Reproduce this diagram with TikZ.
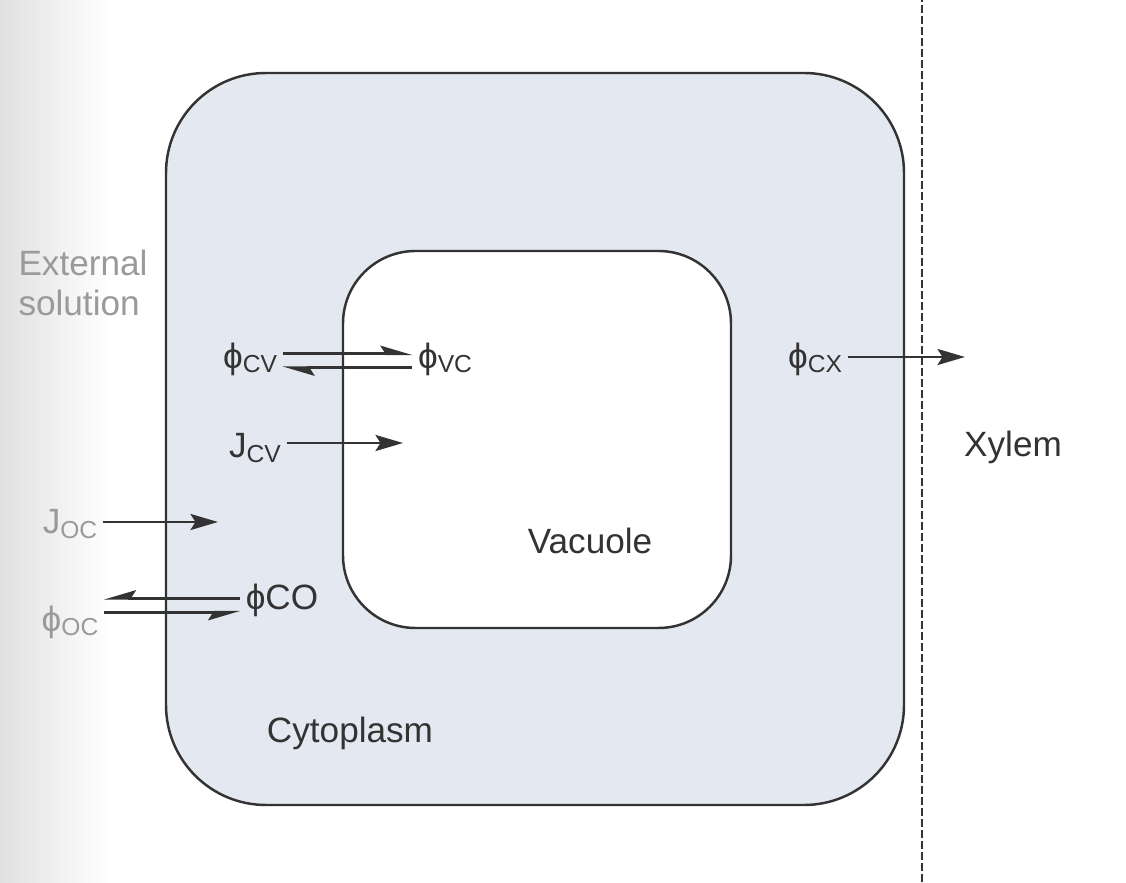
\documentclass[tikz,border=0pt]{standalone}
\usepackage{fontspec}
\setmainfont{Liberation Sans}
\usetikzlibrary{arrows.meta}

\definecolor{cytofill}{HTML}{E4E8F0}
\definecolor{inkgray}{HTML}{333333}
\definecolor{fadegray}{HTML}{9A9A9A}

\newcommand{\sbs}[1]{\raisebox{-2.5pt}{\fontsize{14}{14}\selectfont #1}}

\begin{document}
\begin{tikzpicture}[
    font=\fontsize{20}{23}\selectfont,
    lbl/.style={text=inkgray, inner sep=3pt},
    faint/.style={text=fadegray, inner sep=3pt, align=left},
    wall/.style={draw=inkgray, line width=1.4pt},
    arr/.style={-{Stealth[length=0.55cm, width=0.32cm, inset=0.1cm]},
                line width=1.5pt, draw=inkgray},
    harp/.style={-{Stealth[harpoon, length=0.55cm, width=0.32cm, inset=0.1cm]},
                 line width=1.5pt, draw=inkgray},
    harpS/.style={-{Stealth[harpoon, swap, length=0.55cm, width=0.32cm, inset=0.1cm]},
                  line width=1.5pt, draw=inkgray},
  ]
  \useasboundingbox (0,0) rectangle (22.52,17.64);

  %% ================================================================
  %% Background and compartments
  %% ================================================================
  \shade[left color=black!12, right color=white] (0,0) rectangle (2.2,17.64);

  \draw[wall, fill=cytofill, rounded corners=2.0cm]
    (3.32,1.54) rectangle (18.08,16.18);
  \draw[wall, fill=white, rounded corners=1.45cm]
    (6.86,5.08) rectangle (14.62,12.62);

  %% xylem boundary
  \draw[inkgray, line width=1.3pt, dash pattern=on 0.16cm off 0.06cm]
    (18.44,0) -- (18.44,17.64);

  %% ================================================================
  %% Region labels
  %% ================================================================
  \node[faint] (ext)   at (1.66, 11.98) {External\\solution};
  \node[lbl]   (vac)   at (11.8,  6.82) {Vacuole};
  \node[lbl]   (cyto)  at (7.0,   2.98) {Cytoplasm};
  \node[lbl]   (xyl)   at (20.26, 8.70) {Xylem};

  %% ================================================================
  %% Fluxes
  %% ================================================================
  \node[lbl]   (phicv) at (5.0,  10.46) {ϕ\sbs{CV}};
  \node[lbl]   (phivc) at (8.9,  10.46) {ϕ\sbs{VC}};
  \node[lbl]   (jcv)   at (5.1,   8.68) {J\sbs{CV}};
  \node[faint] (joc)   at (1.4,   7.16) {J\sbs{OC}};
  \node[faint] (phioc) at (1.4,   5.20) {ϕ\sbs{OC}};
  \node[lbl]   (phico) at (5.64,  5.64) {ϕCO};
  \node[lbl]   (phicx) at (16.3, 10.46) {ϕ\sbs{CX}};

  \coordinate (jcvend) at (8.06, 8.78);
  \coordinate (jocend) at (4.36, 7.20);
  \coordinate (cxend)  at (19.3, 10.50);

  \draw[harp]  ([yshift=3pt]phicv.east) -- ([yshift=3pt]phicv.east -| phivc.west);
  \draw[harp]  ([yshift=-5pt]phicv.east -| phivc.west) -- ([yshift=-5pt]phicv.east);
  \draw[arr]   (jcv.east |- jcvend) -- (jcvend);
  \draw[arr]   (joc.east |- jocend) -- (jocend);
  \draw[harpS] ([yshift=1pt]phico.west) -- ([yshift=1pt]phioc.east |- phico);
  \draw[harpS] ([yshift=-7pt]phioc.east |- phico) -- ([yshift=-7pt]phico.west);
  \draw[arr]   (phicx.east |- cxend) -- (cxend);

  \end{tikzpicture}
\end{document}
